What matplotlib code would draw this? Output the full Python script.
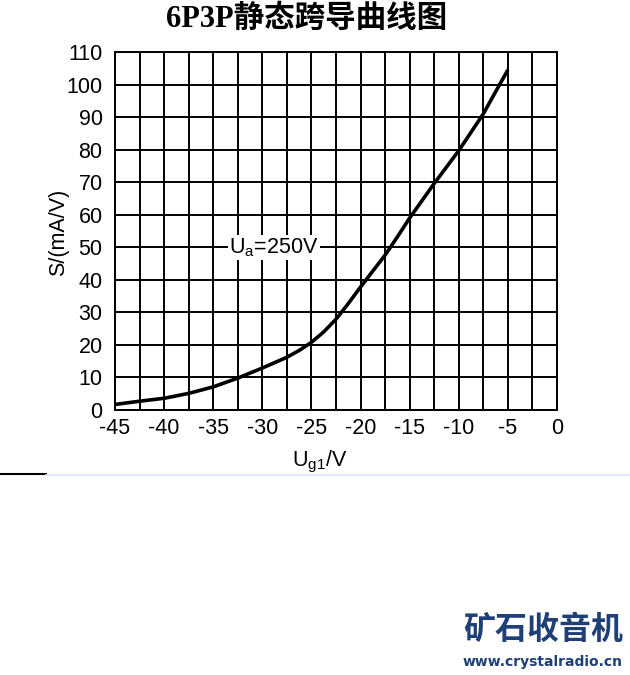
import matplotlib
matplotlib.use("Agg")
import matplotlib.pyplot as plt
from matplotlib.lines import Line2D
import numpy as np

plt.rcParams['axes.unicode_minus'] = False

# Data
ug1 = [-45, -42.5, -40, -37.5, -35, -32.5, -30, -27.5, -26.25, -25, -23.75, -22.5, -21.25,
       -20, -18.75, -17.5, -16.25, -15, -12.5, -10, -7.5, -6.25, -5]
s_vals = [1.7, 2.7, 3.6, 5.1, 7.1, 9.8, 12.9, 16.2, 18.3, 20.8, 24.0, 27.9, 32.7,
          37.8, 42.7, 47.6, 53.2, 59.0, 69.6, 79.7, 91.0, 97.8, 104.5]
x_ticks = [-45, -40, -35, -30, -25, -20, -15, -10, -5, 0]
y_ticks = [0, 10, 20, 30, 40, 50, 60, 70, 80, 90, 100, 110]
x_grid = list(np.arange(-45, 0.1, 2.5))
title = "6P3P静态跨导曲线图"
curve_label = "U$_\\mathregular{a}$=250V"
x_label = "U$_\\mathregular{g1}$/V"
y_label = "S/(mA/V)"

W, H = 630, 675
fig = plt.figure(figsize=(W / 100, H / 100), dpi=100)
ax = fig.add_axes([115 / W, 1 - 410 / H, (557 - 115) / W, (410 - 52) / H])

ax.set_xlim(-45, 0)
ax.set_ylim(0, 110)
for gx in x_grid:
    ax.axvline(gx, color='black', lw=1.4, zorder=1)
for gy in y_ticks:
    ax.axhline(gy, color='black', lw=1.4, zorder=1)

ax.plot(ug1, s_vals, color='black', lw=2.6, solid_capstyle='butt',
        solid_joinstyle='round', zorder=3)

ax.text(-28.85, 50, curve_label, fontsize=15.5, family='Liberation Sans',
        ha='center', va='center', zorder=4,
        bbox=dict(facecolor='white', edgecolor='none', pad=1.0))

ax.set_xticks(x_ticks)
ax.set_yticks(y_ticks)
ax.set_xticklabels([str(v) for v in x_ticks], family='Liberation Sans', fontsize=15.5)
ax.set_yticklabels([str(v) for v in y_ticks], family='Liberation Sans', fontsize=15.5)
ax.tick_params(length=0, pad=6)
ax.tick_params(axis='y', pad=9)
for sp in ax.spines.values():
    sp.set_linewidth(1.4)

fig.text(320 / W, 1 - 462 / H, x_label, fontsize=15.5, family='Liberation Sans',
         ha='center', va='center')
fig.text(59 / W, 1 - 232 / H, y_label, fontsize=15.5, family='Liberation Sans',
         ha='center', va='center', rotation=90)

fig.text(307 / W, 1 - 19 / H, title, fontsize=22, fontweight='bold',
         family=['Liberation Serif', 'Noto Sans CJK SC'], ha='center', va='center')

# separator lines
fig.add_artist(Line2D([0, 46 / W], [1 - 474 / H] * 2, color='black', lw=1.5, transform=fig.transFigure))
fig.add_artist(Line2D([46 / W, 1], [1 - 475 / H] * 2, color='#dde9f7', lw=1.2, transform=fig.transFigure))

# watermark
fig.text(543 / W, 1 - 630 / H, "矿石收音机", fontsize=23, fontweight='bold',
         family=['Noto Sans CJK SC'], color='#1f3f78', ha='center', va='center')
fig.text(543 / W, 1 - 662 / H, "www.crystalradio.cn", fontsize=10, fontweight='bold',
         family='DejaVu Sans', color='#1f3f78', ha='center', va='center')

fig.savefig("out.png", dpi=100, facecolor='white')
